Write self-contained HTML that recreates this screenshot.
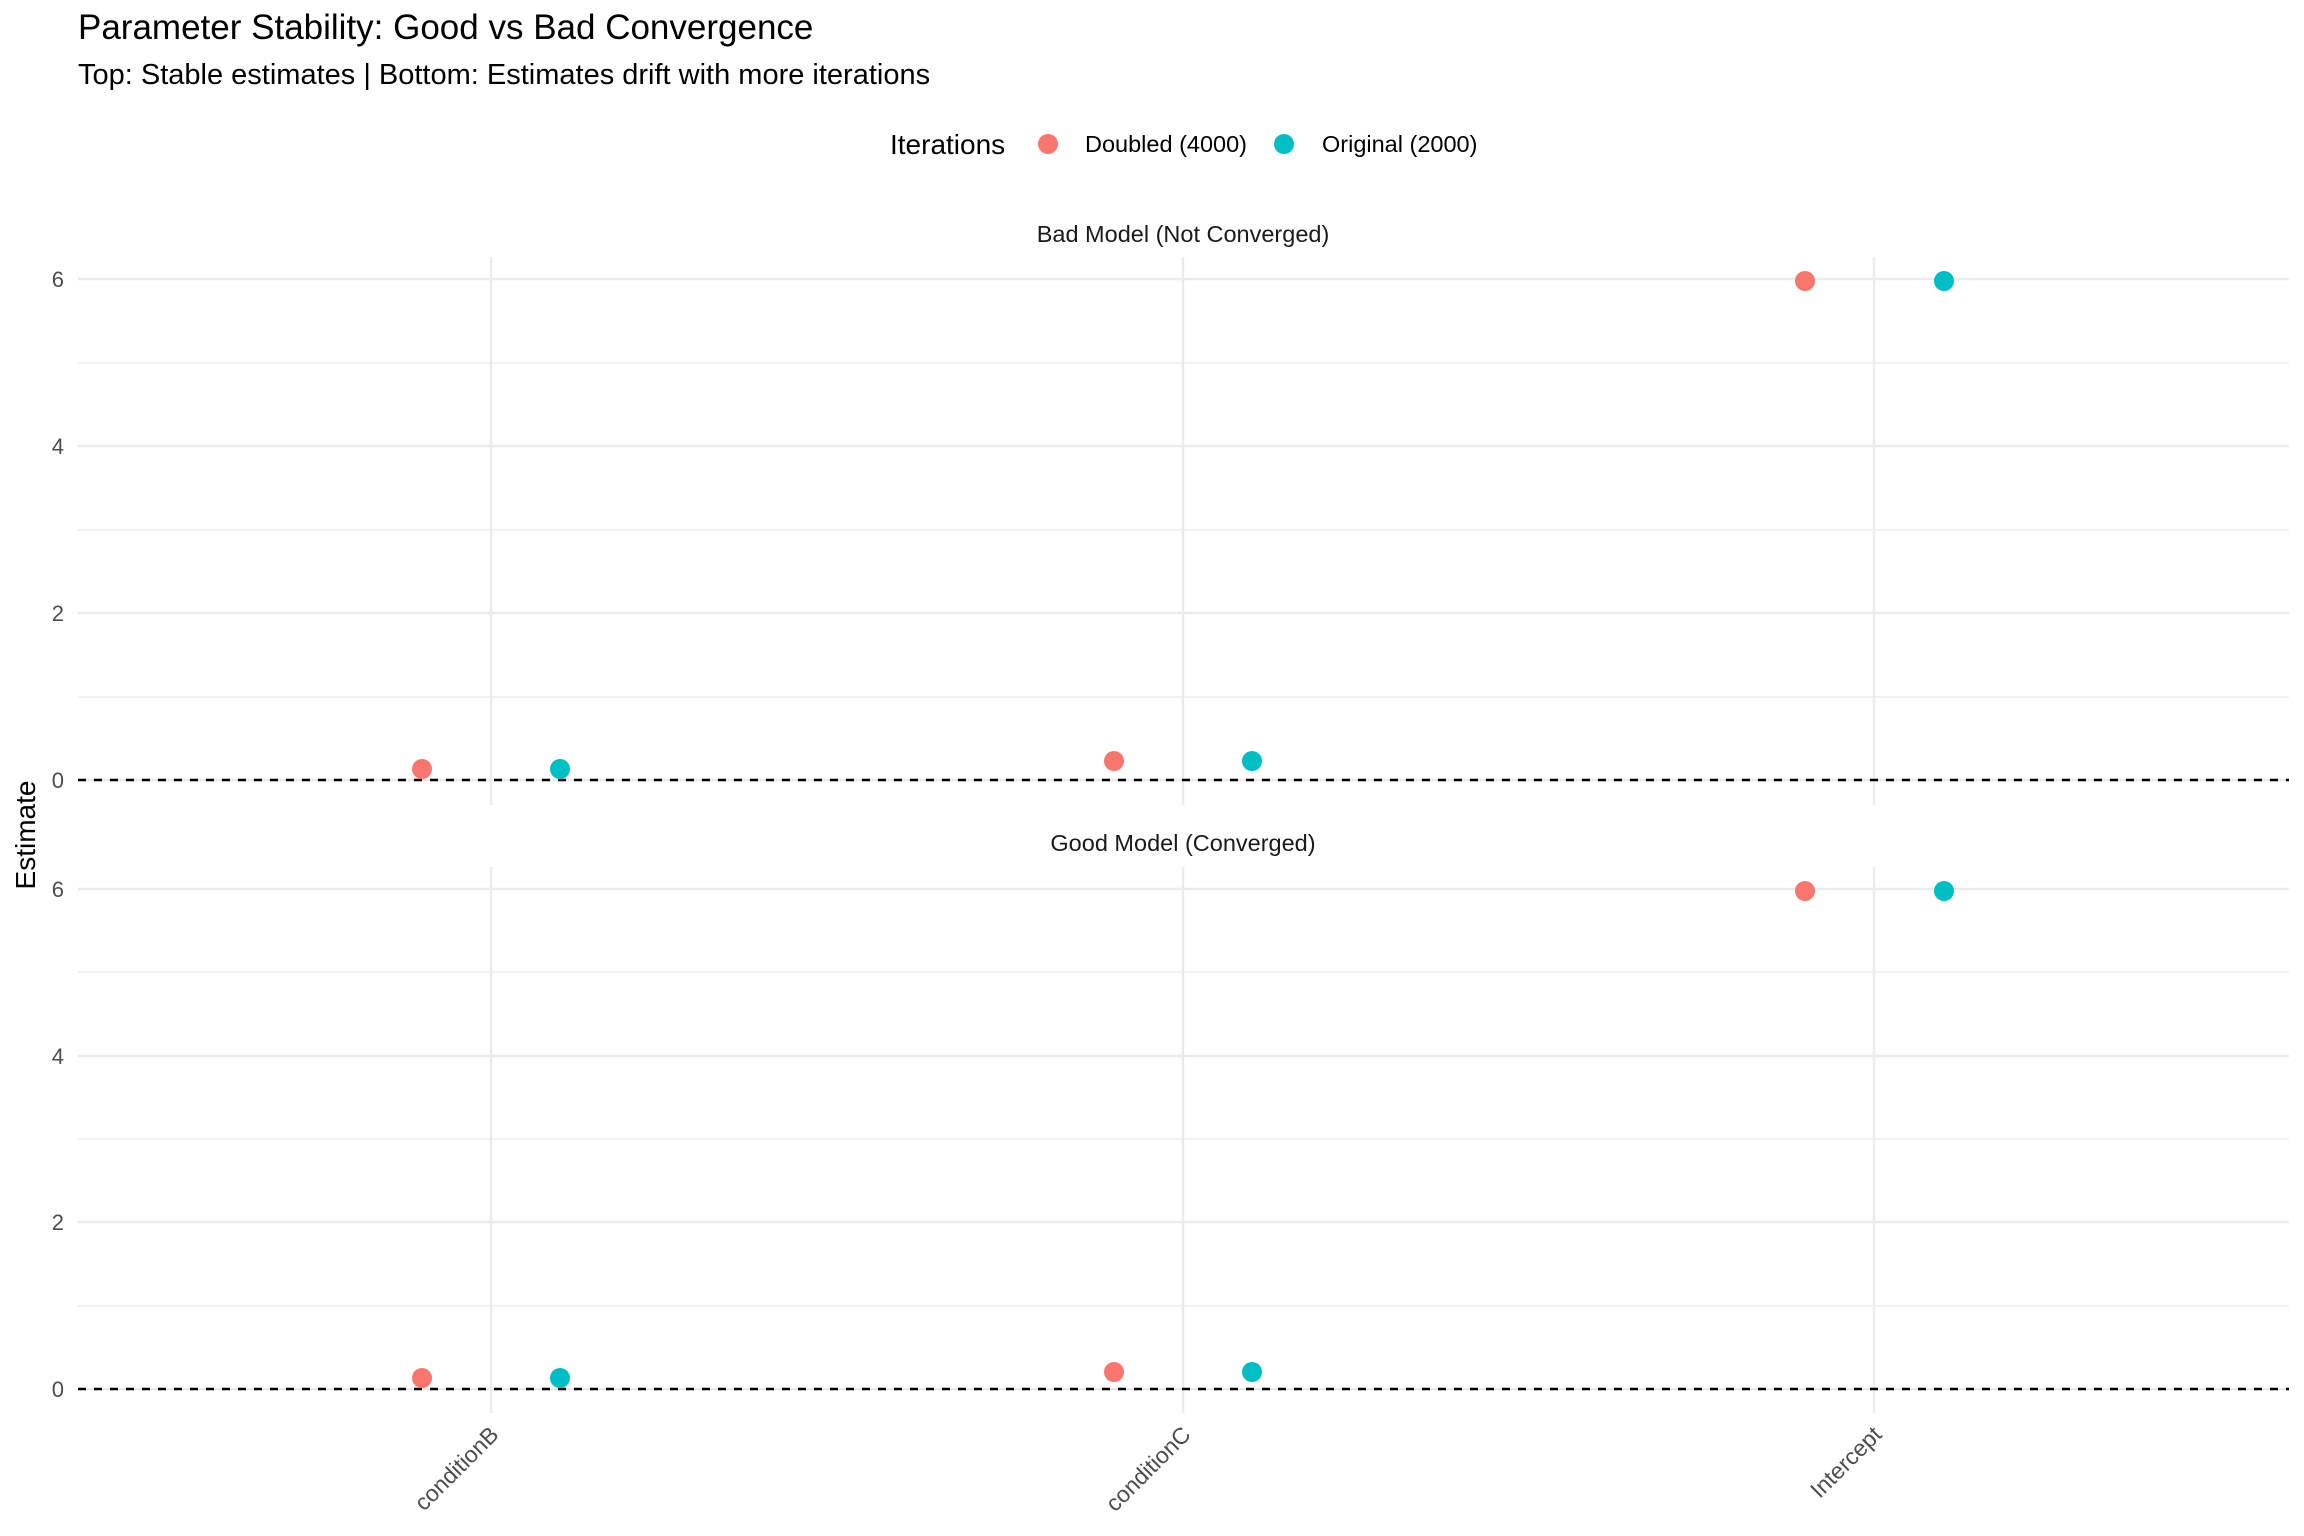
<!DOCTYPE html>
<html><head><meta charset="utf-8"><style>body{margin:0;background:#fff}svg{display:block}</style></head>
<body>
<svg width="2304" height="1536" viewBox="0 0 2304 1536" xmlns="http://www.w3.org/2000/svg" font-family="Liberation Sans, sans-serif">
<rect width="2304" height="1536" fill="#fff"/>
<text x="78" y="39" font-size="35" fill="#000">Parameter Stability: Good vs Bad Convergence</text>
<text x="78" y="84" font-size="29" fill="#000">Top: Stable estimates | Bottom: Estimates drift with more iterations</text>
<text x="890" y="154" font-size="28" fill="#000">Iterations</text>
<circle cx="1048" cy="144" r="10" fill="#F8766D"/>
<text x="1085" y="152" font-size="23.5" fill="#000">Doubled (4000)</text>
<circle cx="1284" cy="144" r="10" fill="#00BFC4"/>
<text x="1322" y="152" font-size="23.5" fill="#000">Original (2000)</text>
<text x="1183" y="242" font-size="23.5" fill="#1a1a1a" text-anchor="middle">Bad Model (Not Converged)</text>
<text x="1183" y="851" font-size="23.5" fill="#1a1a1a" text-anchor="middle">Good Model (Converged)</text>
<text transform="translate(35,835) rotate(-90)" font-size="28" fill="#000" text-anchor="middle">Estimate</text>
<g>
<g stroke="#ebebeb" stroke-width="1.2">
<line x1="78" x2="2289" y1="363" y2="363"/><line x1="78" x2="2289" y1="530" y2="530"/><line x1="78" x2="2289" y1="697" y2="697"/>
</g>
<g stroke="#ebebeb" stroke-width="2.4">
<line x1="78" x2="2289" y1="279" y2="279"/><line x1="78" x2="2289" y1="446" y2="446"/><line x1="78" x2="2289" y1="613" y2="613"/><line x1="78" x2="2289" y1="780" y2="780"/>
<line x1="491" x2="491" y1="257" y2="805"/><line x1="1183" x2="1183" y1="257" y2="805"/><line x1="1874" x2="1874" y1="257" y2="805"/>
</g>
<line x1="78" x2="2289" y1="780" y2="780" stroke="#000" stroke-width="2.4" stroke-dasharray="8,8"/>
<g font-size="22" fill="#4d4d4d" text-anchor="end">
<text x="64" y="287">6</text><text x="64" y="454">4</text><text x="64" y="621">2</text><text x="64" y="788">0</text>
</g>
<circle cx="422" cy="769" r="10" fill="#F8766D"/><circle cx="560" cy="769" r="10" fill="#00BFC4"/>
<circle cx="1114" cy="761" r="10" fill="#F8766D"/><circle cx="1252" cy="761" r="10" fill="#00BFC4"/>
<circle cx="1805" cy="281" r="10" fill="#F8766D"/><circle cx="1944" cy="281" r="10" fill="#00BFC4"/>
</g>
<g>
<g stroke="#ebebeb" stroke-width="1.2">
<line x1="78" x2="2289" y1="972" y2="972"/><line x1="78" x2="2289" y1="1139" y2="1139"/><line x1="78" x2="2289" y1="1306" y2="1306"/>
</g>
<g stroke="#ebebeb" stroke-width="2.4">
<line x1="78" x2="2289" y1="889" y2="889"/><line x1="78" x2="2289" y1="1056" y2="1056"/><line x1="78" x2="2289" y1="1222" y2="1222"/><line x1="78" x2="2289" y1="1389" y2="1389"/>
<line x1="491" x2="491" y1="867" y2="1413"/><line x1="1183" x2="1183" y1="867" y2="1413"/><line x1="1874" x2="1874" y1="867" y2="1413"/>
</g>
<line x1="78" x2="2289" y1="1389" y2="1389" stroke="#000" stroke-width="2.4" stroke-dasharray="8,8"/>
<g font-size="22" fill="#4d4d4d" text-anchor="end">
<text x="64" y="897">6</text><text x="64" y="1064">4</text><text x="64" y="1230">2</text><text x="64" y="1397">0</text>
</g>
<circle cx="422" cy="1378" r="10" fill="#F8766D"/><circle cx="560" cy="1378" r="10" fill="#00BFC4"/>
<circle cx="1114" cy="1372" r="10" fill="#F8766D"/><circle cx="1252" cy="1372" r="10" fill="#00BFC4"/>
<circle cx="1805" cy="891" r="10" fill="#F8766D"/><circle cx="1944" cy="891" r="10" fill="#00BFC4"/>
</g>
<g font-size="23" fill="#4d4d4d" text-anchor="end">
<text transform="translate(500,1436) rotate(-45)">conditionB</text>
<text transform="translate(1192,1436) rotate(-45)">conditionC</text>
<text transform="translate(1883,1436) rotate(-45)">Intercept</text>
</g>
</svg>
</body></html>
